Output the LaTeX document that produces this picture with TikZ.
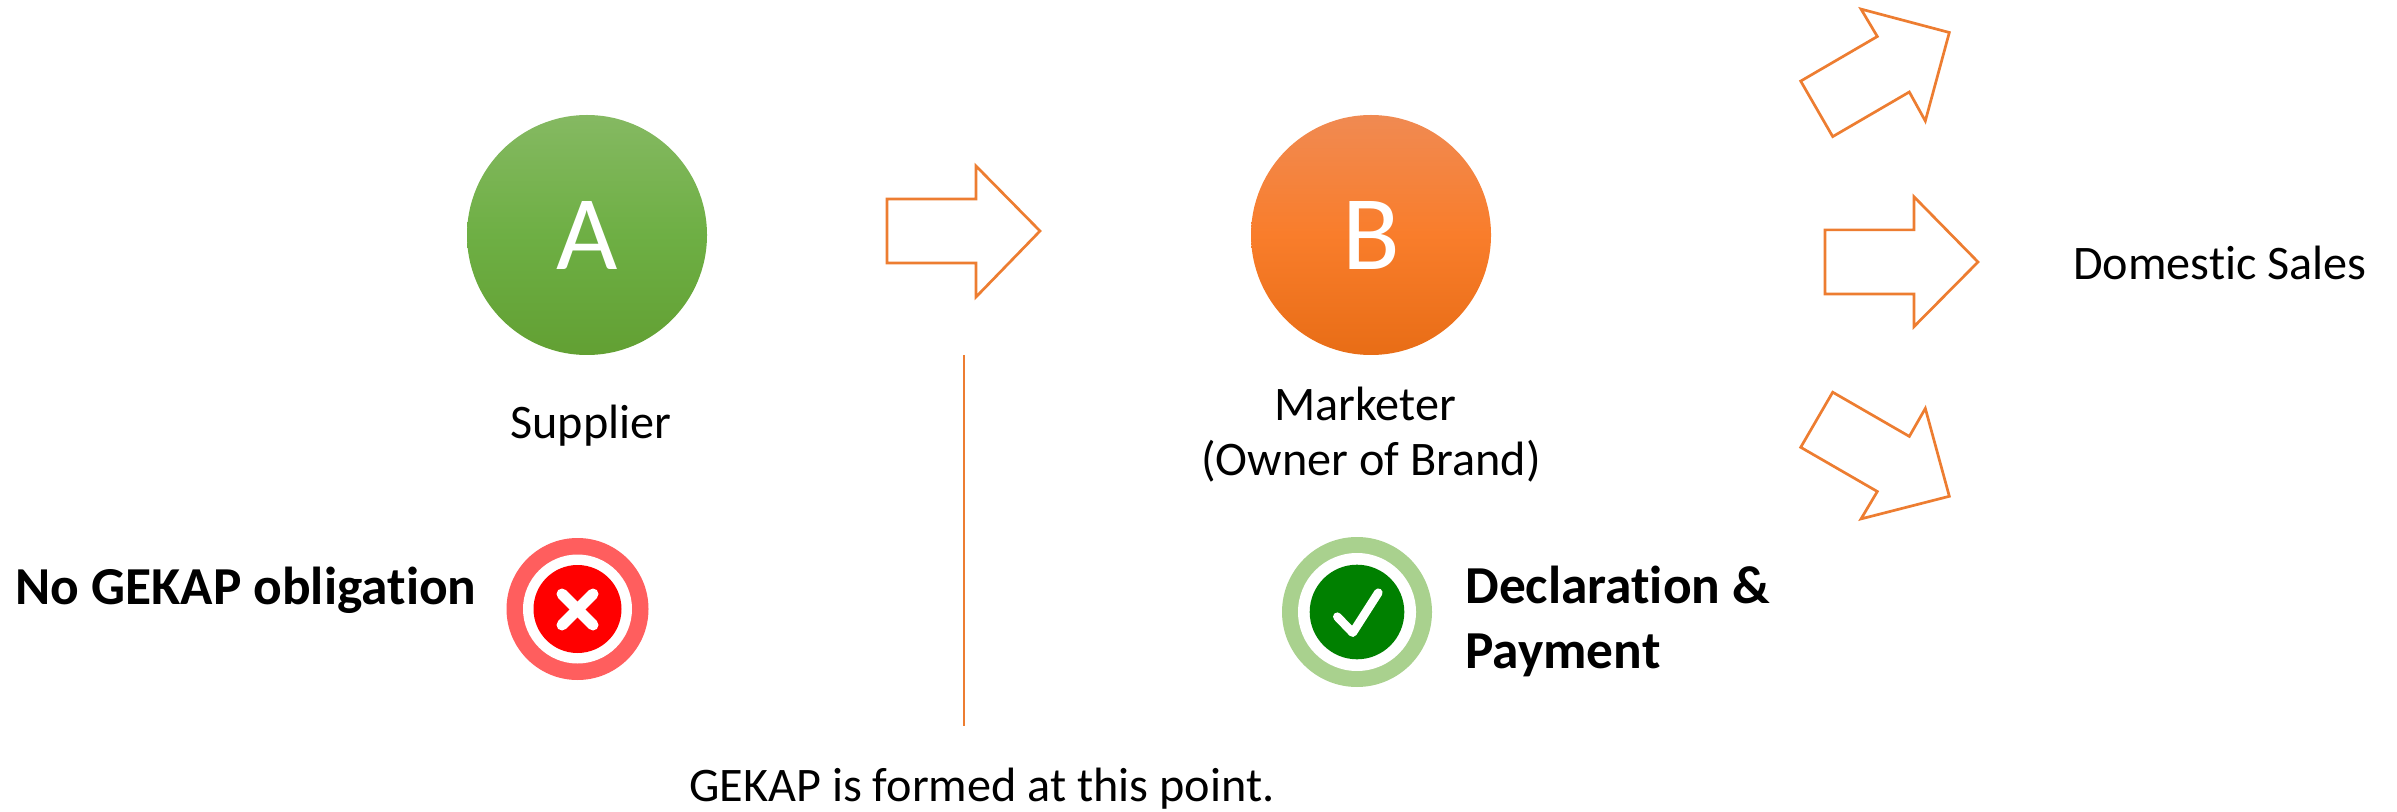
\documentclass[tikz,border=0pt]{standalone}
\usepackage{fontspec}
\setmainfont[Ligatures=NoCommon]{Carlito}
\definecolor{arroworange}{HTML}{ED7D31}
\definecolor{ringred}{HTML}{FF5E5E}
\definecolor{ringgreen}{HTML}{A9D18E}
\definecolor{darkgreen}{HTML}{008000}
\definecolor{gtop}{RGB}{133,185,98}
\definecolor{gmid}{RGB}{110,175,68}
\definecolor{gbot}{RGB}{98,160,51}
\definecolor{otop}{RGB}{240,138,82}
\definecolor{omid}{RGB}{249,125,43}
\definecolor{obot}{RGB}{232,109,22}
\tikzset{
  px/.style={x=0.5pt,y=-0.5pt},
  blockarrow/.style={draw=arroworange,line width=1.35pt,line join=miter,fill=white},
  letterball/.style={circle,minimum size=120pt,inner sep=0pt,text=white,font=\fontsize{53}{53}\selectfont},
  textlabel/.style={font=\fontsize{24.1}{29}\selectfont,text=black,inner sep=0pt,align=center},
  boldlabel/.style={font=\fontsize{26.7}{32}\selectfont\bfseries,text=black,inner sep=0pt,anchor=west},
  iconmark/.style={draw=white,line cap=round,line join=round}
}
\begin{document}
\begin{tikzpicture}[px]
\useasboundingbox (0,0) rectangle (2397,812);
% letter circles
\node[letterball,top color=gtop,bottom color=gbot,middle color=gmid] (A) at (587,235) {A};
\node[letterball,top color=otop,bottom color=obot,middle color=omid] (B) at (1371,235) {B};
% block arrows
\draw[blockarrow] (887,199) -- (976,199) -- (976,166) -- (1040,231) -- (976,297) -- (976,263) -- (887,263) -- cycle;
\draw[blockarrow] (1825,229.9) -- (1914,229.9) -- (1914,196.8) -- (1978,262) -- (1914,326.6) -- (1914,294.1) -- (1825,294.1) -- cycle;
\draw[blockarrow] (1800.7,81.1) -- (1877.3,36.5) -- (1861,9.1) -- (1949.3,32.5) -- (1925.3,121) -- (1909.3,92) -- (1832.7,136.6) -- cycle;
\draw[blockarrow] (1832.7,392.2) -- (1909.3,436.4) -- (1925.3,408.4) -- (1949.3,496.3) -- (1861,518.9) -- (1877.3,491.5) -- (1800.7,447.3) -- cycle;
% point marker
\coordinate (lineTop) at (964,355);
\coordinate (lineEnd) at (964,726);
\draw[arroworange,line width=0.7pt] (lineTop) -- (lineEnd);
% texts
\node[textlabel] (supplier) at (591,426) {Supplier};
\node[textlabel] (marketer) at (1365,404) {Marketer};
\node[textlabel] (owner) at (1371,461) {(Owner of Brand)};
\node[textlabel] (domestic) at (2220,263) {Domestic Sales};
\node[textlabel] (formed) at (982,788.5) {GEKAP is formed at this point.};
\node[boldlabel] (noob) at (15,590) {No GEKAP obligation};
\node[boldlabel] (decl) at (1465,585) {Declaration \&};
\node[boldlabel] (pay) at (1465,655) {Payment};
% cross icon
\node[circle,fill=ringred,minimum size=71pt,inner sep=0pt] (crossRing) at (577.5,609) {};
\node[circle,fill=white,minimum size=54.5pt,inner sep=0pt] (crossGap) at (577.5,609) {};
\node[circle,fill=red,minimum size=44pt,inner sep=0pt] (crossDisc) at (577.5,609) {};
\draw[iconmark,line width=5.5pt] (562,594) -- (593,625);
\draw[iconmark,line width=5.5pt] (593,594) -- (562,625);
% check icon
\node[circle,fill=ringgreen,minimum size=75pt,inner sep=0pt] (checkRing) at (1357,612) {};
\node[circle,fill=white,minimum size=59pt,inner sep=0pt] (checkGap) at (1357,612) {};
\node[circle,fill=darkgreen,minimum size=47.3pt,inner sep=0pt] (checkDisc) at (1357,612) {};
\draw[iconmark,line width=4.3pt] (1337.3,616.7) -- (1352.7,632.7) -- (1378.3,592.7);
\end{tikzpicture}
\end{document}
